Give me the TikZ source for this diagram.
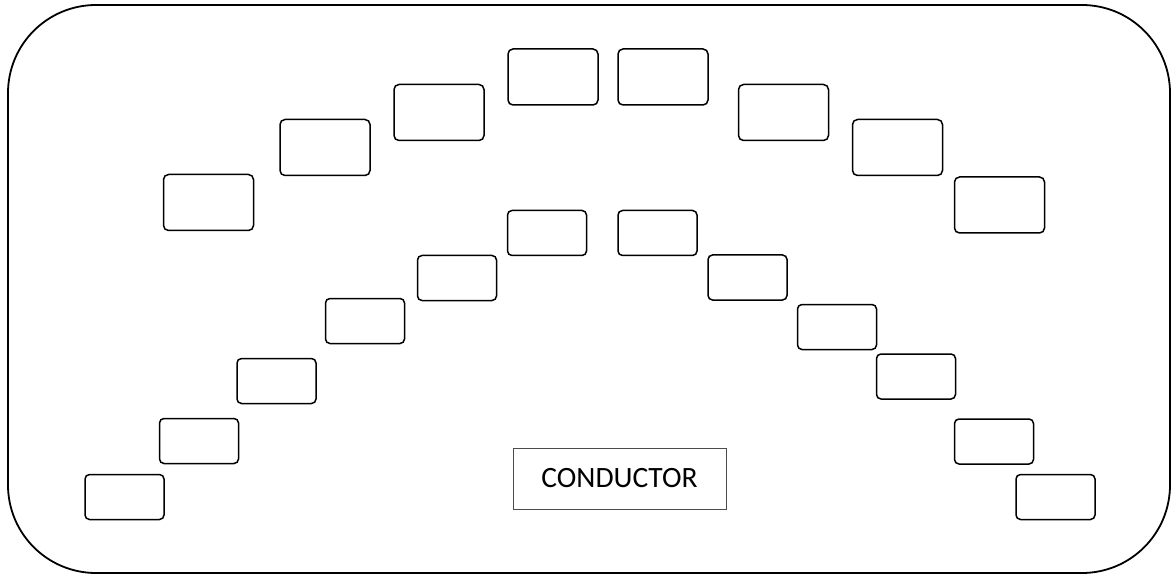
\documentclass[tikz,border=0pt]{standalone}
\usepackage{fontspec}
\setmainfont{Carlito}
\begin{document}
\begin{tikzpicture}[x=1pt,y=-1pt,
  outerbox/.style={draw=black, line width=1.8pt, rounded corners=88pt, inner sep=0pt},
  bigslot/.style={draw=black, line width=1.5pt, rounded corners=5pt, minimum width=90pt, minimum height=56pt, inner sep=0pt},
  smallslot/.style={draw=black, line width=1.5pt, rounded corners=4.5pt, minimum width=79pt, minimum height=45pt, inner sep=0pt},
  labelbox/.style={draw=black!70, line width=0.9pt, minimum width=213pt, minimum height=61pt, inner sep=0pt, font=\fontsize{29.5}{32}\selectfont}]
\useasboundingbox (0,0) rectangle (1172,577);
\node[outerbox, minimum width=1162pt, minimum height=568pt] (outer) at (589,289) {};
% upper arc
\node[bigslot] (u1) at (208.5,202.5) {};
\node[bigslot] (u2) at (325,147.5) {};
\node[bigslot] (u3) at (439,112.5) {};
\node[bigslot] (u4) at (553,77) {};
\node[bigslot] (u5) at (663,77) {};
\node[bigslot] (u6) at (783.5,112.5) {};
\node[bigslot] (u7) at (897.5,147.5) {};
\node[bigslot] (u8) at (999.5,205) {};
% lower arc
\node[smallslot] (l1) at (124.5,497) {};
\node[smallslot] (l2) at (199,441) {};
\node[smallslot] (l3) at (276.5,381) {};
\node[smallslot] (l4) at (365,321) {};
\node[smallslot] (l5) at (457,278) {};
\node[smallslot] (l6) at (547,233) {};
\node[smallslot] (l7) at (657.5,233) {};
\node[smallslot] (l8) at (747.5,277.5) {};
\node[smallslot] (l9) at (837,327) {};
\node[smallslot] (l10) at (916,376.5) {};
\node[smallslot] (l11) at (994,441.5) {};
\node[smallslot] (l12) at (1055.5,497) {};
% label
\node[labelbox] (cond) at (619.5,478.5) {CONDUCTOR};
\end{tikzpicture}
\end{document}
